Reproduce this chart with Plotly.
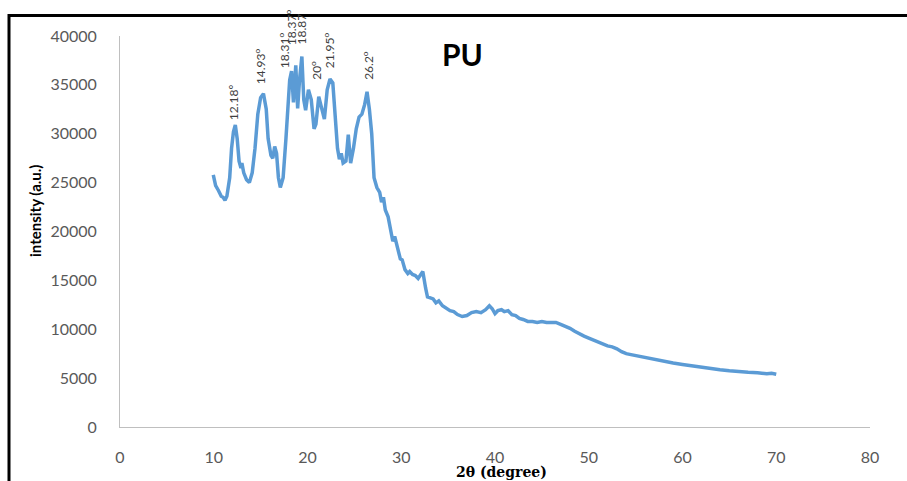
import plotly.graph_objects as go

two_theta = [9.95, 10.2, 10.5, 10.8, 11.0, 11.2, 11.4, 11.7, 11.9, 12.1, 12.3, 12.5, 12.7, 12.9, 13.0, 13.2,
             13.5, 13.8, 14.1, 14.4, 14.7, 15.0, 15.3, 15.6, 15.8, 16.1, 16.3, 16.5, 16.7, 16.9, 17.1, 17.4,
             17.7, 17.9, 18.1, 18.3, 18.5, 18.75, 18.95, 19.15, 19.4, 19.6, 19.8, 20.1, 20.4, 20.7, 20.9,
             21.2, 21.5, 21.8, 22.1, 22.4, 22.7, 23.0, 23.2, 23.4, 23.6, 23.8, 24.1, 24.35, 24.6, 24.9,
             25.2, 25.5, 25.8, 26.1, 26.35, 26.6, 26.85, 27.1, 27.4, 27.7, 27.9, 28.1, 28.3, 28.6, 28.9,
             29.1, 29.3, 29.6, 29.9, 30.1, 30.4, 30.7, 30.9, 31.2, 31.5, 31.8, 32.1, 32.3, 32.6, 32.8,
             33.1, 33.4, 33.7, 34.0, 34.4, 34.8, 35.2, 35.6, 36.0, 36.5, 37.0, 37.5, 38.0, 38.5, 39.0,
             39.4, 39.7, 40.0, 40.3, 40.7, 41.0, 41.4, 41.8, 42.2, 42.6, 43.0, 43.5, 44.0, 44.5, 45.0,
             45.5, 46.0, 46.5, 47.0, 47.5, 48.0, 48.5, 49.0, 49.5, 50.0, 50.5, 51.0, 51.5, 52.0, 52.5,
             53.0, 53.5, 54.0, 54.5, 55.0, 55.5, 56.0, 57.0, 58.0, 59.0, 60.0, 61.0, 62.0, 63.0, 64.0,
             65.0, 66.0, 67.0, 68.0, 69.0, 69.5, 70.0]
intensity = [25800, 24700, 24200, 23600, 23500, 23200, 23600, 25500, 28500, 30200, 30900, 29500, 27200, 26500, 27000, 26000,
             25300, 25000, 26000, 28500, 32000, 33700, 34100, 32500, 29500, 27800, 27500, 28700, 28000, 25500, 24500, 25500,
             29500, 33000, 35500, 36400, 33200, 37000, 32600, 35500, 37900, 33500, 32400, 34500, 33500, 30500, 31000,
             33800, 32800, 31500, 34500, 35600, 35200, 31500, 28500, 27400, 28000, 27000, 27200, 29900, 27000, 28500,
             30500, 31700, 32000, 33000, 34300, 32500, 30000, 25500, 24500, 24000, 23000, 23500, 22200, 21500, 19800,
             19000, 19500, 18200, 17200, 17100, 16100, 15700, 15900, 15600, 15500, 15200, 15700, 15900, 14200, 13300,
             13200, 13100, 12700, 12900, 12400, 12100, 11900, 11800, 11500, 11300, 11400, 11700, 11800, 11700, 12000,
             12400, 12100, 11600, 11900, 12000, 11800, 11900, 11500, 11400, 11100, 11000, 10800, 10800, 10700, 10800,
             10700, 10700, 10700, 10500, 10300, 10100, 9800, 9500, 9300, 9100, 8900, 8700, 8500, 8300, 8200,
             8000, 7700, 7500, 7400, 7300, 7200, 7100, 6900, 6700, 6550, 6400, 6250, 6100, 6000, 5850,
             5750, 5650, 5600, 5550, 5450, 5500, 5400]

peak_labels = ["12.18º", "14.93<sup>o</sup>", "18.31<sup>o</sup>", "18.37<sup>o</sup>", "18.87",
               "20<sup>o</sup>", "21.95<sup>o</sup>", "26.2<sup>o</sup>"]
peak_label_x = [12.07, 14.95, 17.52, 18.26, 19.33, 20.83, 22.32, 26.38]
peak_label_y = [31200, 34880, 36520, 38870, 38900, 35290, 36520, 35290]

x_ticks = [0, 10, 20, 30, 40, 50, 60, 70, 80]
y_ticks = [0, 5000, 10000, 15000, 20000, 25000, 30000, 35000, 40000]

fig = go.Figure()
fig.add_trace(go.Scatter(x=two_theta, y=intensity, mode="lines",
                         line=dict(color="#5B9BD5", width=3.5), showlegend=False))

W, H = 907, 481
L, R, T, B = 120, 37, 36, 54
pw, ph = W - L - R, H - T - B

def px2paper_x(px):
    return (px - L) / pw

def px2paper_y(py):
    return (H - B - py) / ph

tick_font = dict(family="Lato", size=16, color="#595959")
fig.update_layout(
    width=W, height=H,
    margin=dict(l=L, r=R, t=T, b=B, pad=0),
    paper_bgcolor="white", plot_bgcolor="white",
    xaxis=dict(range=[0, 80], tickvals=x_ticks, ticktext=[str(v) for v in x_ticks],
               showgrid=False, zeroline=False, showline=True, linecolor="#BFBFBF", linewidth=1,
               ticks="", tickfont=tick_font, ticklabelstandoff=16),
    yaxis=dict(range=[0, 40000], tickvals=y_ticks, ticktext=[str(v) for v in y_ticks],
               showgrid=False, zeroline=False, showline=True, linecolor="#BFBFBF", linewidth=1,
               ticks="", tickfont=tick_font, ticklabelstandoff=19),
)

for lab, lx, ly in zip(peak_labels, peak_label_x, peak_label_y):
    fig.add_annotation(x=lx, y=ly, xref="x", yref="y", text=lab, textangle=-90,
                       showarrow=False, xanchor="center", yanchor="bottom",
                       font=dict(family="Lato", size=12, color="#404040"))

fig.add_annotation(x=px2paper_x(462), y=px2paper_y(54), xref="paper", yref="paper", text="<b>PU</b>",
                   showarrow=False, xanchor="center", yanchor="middle",
                   font=dict(family="Lato", size=30, color="black"))
fig.add_annotation(x=px2paper_x(35), y=px2paper_y(211), xref="paper", yref="paper",
                   text="<b>intensity (a.u.)</b>", textangle=-90, showarrow=False,
                   xanchor="center", yanchor="middle", font=dict(family="Lato", size=15, color="black"))
fig.add_annotation(x=px2paper_x(501), y=px2paper_y(472), xref="paper", yref="paper",
                   text="<b>2θ (degree)</b>", showarrow=False,
                   xanchor="center", yanchor="middle", font=dict(family="DejaVu Serif", size=14, color="black"))

# outer frame (top and left borders)
fig.add_shape(type="line", xref="paper", yref="paper", x0=px2paper_x(8), x1=px2paper_x(907),
              y0=px2paper_y(15.5), y1=px2paper_y(15.5), line=dict(color="black", width=3))
fig.add_shape(type="line", xref="paper", yref="paper", x0=px2paper_x(9), x1=px2paper_x(9),
              y0=px2paper_y(14), y1=px2paper_y(481), line=dict(color="black", width=3))

fig.write_html("out.html", config={"displayModeBar": False},
               post_script="document.body.style.margin='0px';document.body.style.overflow='hidden';")
